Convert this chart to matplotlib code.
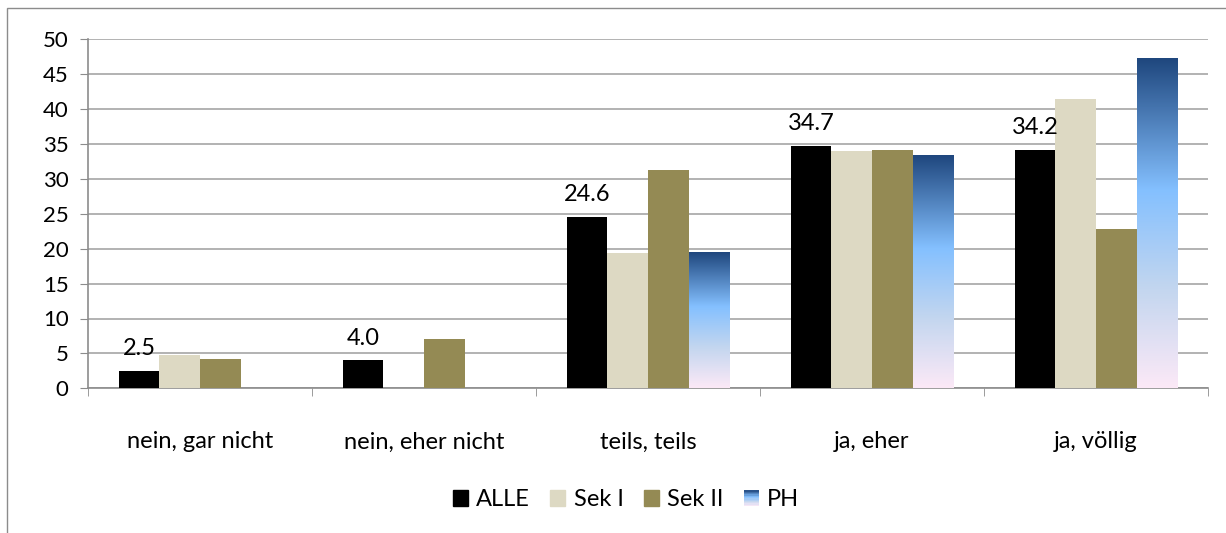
import numpy as np
import matplotlib
matplotlib.use('Agg')
import matplotlib.pyplot as plt
from matplotlib.colors import LinearSegmentedColormap
from matplotlib.patches import Rectangle
from matplotlib.legend_handler import HandlerBase

plt.rcParams['font.family'] = ['Lato', 'DejaVu Sans']

categories = ['nein, gar nicht', 'nein, eher nicht', 'teils, teils', 'ja, eher', 'ja, völlig']
series     = ['ALLE', 'Sek I', 'Sek II', 'PH']
alle   = [2.5, 4.0, 24.6, 34.7, 34.2]
sek1   = [4.8, 0.0, 19.4, 34.0, 41.4]
sek2   = [4.2, 7.0, 31.3, 34.2, 22.8]
ph     = [0.0, 0.0, 19.4, 33.3, 47.2]
yticks = [0, 5, 10, 15, 20, 25, 30, 35, 40, 45, 50]

colors = ['#000000', '#DDD9C3', '#948A54']
ph_cmap = LinearSegmentedColormap.from_list(
    'ph', [(0.0, '#FCE9F7'), (0.3, '#C3D6EF'), (0.6, '#84C0FF'), (1.0, '#1F477E')])

FS = 17
W, H = 1226, 533
fig = plt.figure(figsize=(W / 100, H / 100), dpi=100)
ax = fig.add_axes([88 / W, 1 - 388.3 / H, (1208 - 88) / W, (388.3 - 39.3) / H])

# outer chart frame
fig.add_artist(Rectangle((7 / W, -0.1), 1.2, 1 - 8 / H + 0.1, transform=fig.transFigure,
                         fill=False, edgecolor='#8C8C8C', linewidth=1.0))

x = np.arange(len(categories))
w = 0.181
offs = (np.arange(4) - 1.5) * w

for vals, col, off in zip([alle, sek1, sek2], colors, offs[:3]):
    ax.bar(x + off, vals, w, color=col, edgecolor='none', zorder=3)

# PH bars with vertical gradient
grad = np.linspace(0, 1, 256).reshape(-1, 1)
for xi, v in zip(x, ph):
    if v > 0:
        ax.imshow(grad, cmap=ph_cmap, origin='lower', aspect='auto',
                  extent=(xi + offs[3] - w / 2, xi + offs[3] + w / 2, 0, v), zorder=3)

# data labels for ALLE
for xi, v in zip(x, alle):
    ax.text(xi + offs[0], v + 1.7, f'{v:.1f}', ha='center', va='bottom',
            fontsize=FS, zorder=5)

ax.set_xlim(-0.5, len(categories) - 0.5)
ax.set_ylim(0, 50)
ax.set_yticks(yticks)
ax.yaxis.grid(True, color='#A6A6A6', linewidth=1.2, zorder=0)
ax.set_axisbelow(True)
ax.tick_params(axis='y', labelsize=16, length=6, color='#8C8C8C', pad=8, direction='out')

ax.set_xticks(x)
ax.set_xticklabels(categories, fontsize=FS)
ax.set_xticks(np.arange(len(categories) + 1) - 0.5, minor=True)
ax.tick_params(axis='x', which='major', length=0, pad=31)
ax.tick_params(axis='x', which='minor', length=6, color='#8C8C8C')

for s in ['top', 'right']:
    ax.spines[s].set_visible(False)
for s in ['left', 'bottom']:
    ax.spines[s].set_color('#8C8C8C')
    ax.spines[s].set_linewidth(1.2)


class GradientHandler(HandlerBase):
    def create_artists(self, legend, orig_handle, xdescent, ydescent, width, height, fontsize, trans):
        n = 12
        arts = []
        for i in range(n):
            arts.append(Rectangle((-xdescent, -ydescent + height * i / n), width, height / n + 0.3,
                                  facecolor=ph_cmap((i + 0.5) / n), edgecolor='none', transform=trans))
        return arts


handles = [Rectangle((0, 0), 1, 1, color=c) for c in colors] + [Rectangle((0, 0), 1, 1)]
leg = fig.legend(handles, series, loc='center', bbox_to_anchor=(626 / W, 1 - 500 / H),
                 ncol=4, frameon=False, fontsize=FS, handlelength=0.65, handleheight=0.65,
                 handletextpad=0.35, columnspacing=0.85,
                 handler_map={handles[3]: GradientHandler()})

fig.savefig('out.png', dpi=100)
